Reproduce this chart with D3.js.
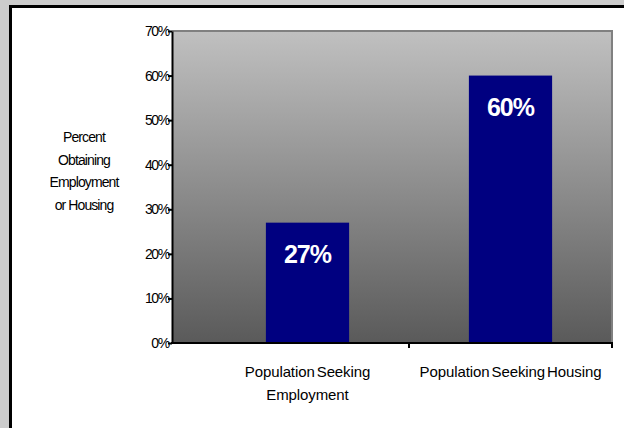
<!DOCTYPE html>
<html>
<head>
<meta charset="utf-8">
<script src="https://cdn.jsdelivr.net/npm/d3@7"></script>
<style>
  body { margin: 0; background: #cccccc; }
  svg text { font-family: "Liberation Sans", Arial, sans-serif; }
</style>
</head>
<body>
<div id="chart"></div>
<script>
let categories = [["Population Seeking", "Employment"], ["Population Seeking Housing"]]
let values = [0.27, 0.60]
let yTicks = [0, 0.1, 0.2, 0.3, 0.4, 0.5, 0.6, 0.7]
let yTitle = ["Percent", "Obtaining", "Employment", "or Housing"]

let width = 624,
    height = 428

let svg = d3.select("#chart").append("svg")
  .attr("width", width)
  .attr("height", height)

// white panel with thick black border (runs off right/bottom)
svg.append("rect")
  .attr("x", 10.5).attr("y", 6.5)
  .attr("width", 640).attr("height", 440)
  .attr("fill", "#fff")
  .attr("stroke", "#000")
  .attr("stroke-width", 3)

let plotLeft = 172, plotRight = 612, plotTop = 31, plotBottom = 343

let y = d3.scaleLinear()
  .domain([0, 0.7])
  .range([plotBottom, plotTop])

let x = d3.scaleBand()
  .domain(d3.range(values.length))
  .range([206, plotRight])
  .padding(0)

// gradient plot area
let grad = svg.append("defs").append("linearGradient")
  .attr("id", "bg").attr("x1", 0).attr("y1", 0).attr("x2", 0).attr("y2", 1)
grad.append("stop").attr("offset", "0%").attr("stop-color", "#c0c0c0")
grad.append("stop").attr("offset", "100%").attr("stop-color", "#5a5a5a")

svg.append("rect")
  .attr("x", plotLeft).attr("y", plotTop)
  .attr("width", plotRight - plotLeft).attr("height", plotBottom - plotTop)
  .attr("fill", "url(#bg)")

// grey border on top and right
svg.append("path")
  .attr("d", `M${plotLeft},${plotTop}H${plotRight}V${plotBottom}`)
  .attr("fill", "none")
  .attr("stroke", "#808080")
  .attr("stroke-width", 2)

// bars
let barW = x.bandwidth() * 0.41
svg.selectAll(".bar")
  .data(values)
  .enter().append("rect")
  .attr("class", "bar")
  .attr("x", (d, i) => x(i) + (x.bandwidth() - barW) / 2)
  .attr("y", d => y(d))
  .attr("width", barW)
  .attr("height", d => y(0) - y(d))
  .attr("fill", "#000080")

svg.selectAll(".val")
  .data(values)
  .enter().append("text")
  .attr("class", "val")
  .attr("x", (d, i) => x(i) + x.bandwidth() / 2)
  .attr("y", d => y(d) + 40)
  .attr("text-anchor", "middle")
  .attr("fill", "#fff")
  .attr("font-weight", "bold")
  .attr("font-size", 25)
  .attr("letter-spacing", -1)
  .text(d => Math.round(d * 100) + "%")

// y axis
let yAxis = svg.append("g")
  .attr("transform", `translate(${plotLeft},0)`)
  .call(d3.axisLeft(y).tickValues(yTicks).tickFormat(d3.format(".0%")).tickSize(4).tickSizeOuter(0))
yAxis.select(".domain").attr("stroke", "#000").attr("stroke-width", 2)
yAxis.selectAll(".tick line").attr("stroke", "#000").attr("stroke-width", 2)
yAxis.selectAll(".tick text")
  .attr("font-size", 14).attr("letter-spacing", -1.3).attr("fill", "#000").attr("x", -3)

// x axis
svg.append("line")
  .attr("x1", plotLeft - 1).attr("x2", plotRight + 1)
  .attr("y1", plotBottom).attr("y2", plotBottom)
  .attr("stroke", "#000").attr("stroke-width", 2)

svg.selectAll(".xtick")
  .data(d3.range(values.length))
  .enter().append("line")
  .attr("class", "xtick")
  .attr("x1", i => x(i) + x.bandwidth()).attr("x2", i => x(i) + x.bandwidth())
  .attr("y1", plotBottom).attr("y2", plotBottom + 5)
  .attr("stroke", "#000").attr("stroke-width", 2)

let xl = svg.selectAll(".xlab")
  .data(categories)
  .enter().append("text")
  .attr("class", "xlab")
  .attr("text-anchor", "middle")
  .attr("font-size", 15)
  .attr("letter-spacing", -0.1)
  .attr("word-spacing", -2)
xl.selectAll("tspan")
  .data((d, i) => d.map(t => ({ t: t, i: i })))
  .enter().append("tspan")
  .attr("x", d => x(d.i) + x.bandwidth() / 2)
  .attr("y", (d, j) => 377 + j * 23)
  .text(d => d.t)

// y title
svg.append("text")
  .attr("text-anchor", "middle")
  .attr("font-size", 14)
  .attr("letter-spacing", -0.9)
  .selectAll("tspan")
  .data(yTitle)
  .enter().append("tspan")
  .attr("x", 84)
  .attr("y", (d, i) => 142 + i * 22.5)
  .text(d => d)
</script>
</body>
</html>
